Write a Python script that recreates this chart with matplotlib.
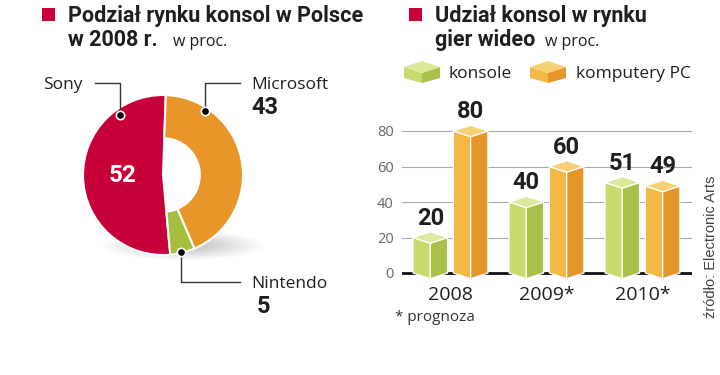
import matplotlib
matplotlib.use("Agg")
import matplotlib.pyplot as plt
from matplotlib.patches import Polygon, Rectangle, Ellipse
from matplotlib.lines import Line2D

plt.rcParams["font.family"] = ["Open Sans", "DejaVu Sans"]
BOLD = ["Roboto", "DejaVu Sans"]

# pie data
brands = ["Sony", "Microsoft", "Nintendo"]
shares = [52, 43, 5]
pie_colors = ["#C8003A", "#E8962A", "#A6BE3E"]

# bar data
years = ["2008", "2009*", "2010*"]
consoles = [20, 40, 51]
pc = [80, 60, 49]
yticks = [0, 20, 40, 60, 80]

W, H = 720, 375
fig = plt.figure(figsize=(7.2, 3.75), dpi=100)
fig.patch.set_facecolor("white")


def fx(x):
    return x / W


def fy(y):
    return 1 - y / H


def ptext(x, y, s, **kw):
    fig.text(fx(x), fy(y), s, **kw)


def pline(xs, ys, **kw):
    fig.add_artist(Line2D([fx(x) for x in xs], [fy(y) for y in ys], **kw))


def ppoly(pts, **kw):
    fig.add_artist(Polygon([(fx(x), fy(y)) for x, y in pts], closed=True,
                           transform=fig.transFigure, **kw))


dark = "#1e1e1e"

# ---- titles ----
fig.add_artist(Rectangle((fx(42), fy(21)), 13 / W, 13 / H, transform=fig.transFigure,
                         color="#C8003A", lw=0))
ptext(68, 22, "Podział rynku konsol w Polsce", fontsize=15.5, fontweight="bold",
      color=dark, family=BOLD)
ptext(68, 46, "w 2008 r.", fontsize=15.5, fontweight="bold", color=dark, family=BOLD)
ptext(173, 46, "w proc.", fontsize=11.5, color=dark)

fig.add_artist(Rectangle((fx(409), fy(21)), 13 / W, 13 / H, transform=fig.transFigure,
                         color="#C8003A", lw=0))
ptext(435, 22, "Udział konsol w rynku", fontsize=15.5, fontweight="bold", color=dark,
      family=BOLD)
ptext(435, 46, "gier wideo", fontsize=15.5, fontweight="bold", color=dark, family=BOLD)
ptext(545, 46, "w proc.", fontsize=11.5, color=dark)

# ---- pie ----
cx, cy, r = 163, 175, 78
ax_pie = fig.add_axes([fx(cx - 100), fy(cy + 100), 200 / W, 200 / H])
ax_pie.set_xlim(-100 / r, 100 / r)
ax_pie.set_ylim(-100 / r, 100 / r)
ax_pie.set_aspect("equal")
ax_pie.axis("off")
# soft shadow under the ring
for i in range(10):
    ax_pie.add_patch(Ellipse((0.25, -0.88), 2.0 - i * 0.15, 0.36 - i * 0.025,
                             color="black", alpha=0.018, lw=0))
order = [0, 2, 1]  # Sony, Nintendo, Microsoft going counter-clockwise
wedges, _ = ax_pie.pie([shares[i] for i in order], colors=[pie_colors[i] for i in order],
                       startangle=88, counterclock=True, radius=1.0,
                       wedgeprops=dict(edgecolor="white", linewidth=1.5))
for w in wedges[1:]:
    w.set_width(0.54)

ptext(cx - 40, cy, str(shares[0]), fontsize=17.5, fontweight="bold", color="white",
      ha="center", va="center", family=BOLD)

# leader lines + labels
dot = dict(marker="o", markersize=6, markerfacecolor="black", markeredgecolor="white",
           markeredgewidth=1.2)
pline([95, 120, 120], [83, 83, 115], color="#333", lw=1)
pline([120], [115], **dot)
ptext(43, 89, brands[0], fontsize=12.5, color=dark)

pline([240, 205, 205], [83, 83, 111], color="#333", lw=1)
pline([205], [111], **dot)
ptext(251, 89, brands[1], fontsize=12.5, color=dark)
ptext(251, 114, str(shares[1]), fontsize=17, fontweight="bold", color=dark, family=BOLD)

pline([181, 181, 240], [252, 282, 282], color="#333", lw=1)
pline([181], [252], **dot)
ptext(251, 288, brands[2], fontsize=12.5, color=dark)
ptext(257, 313, str(shares[2]), fontsize=17, fontweight="bold", color=dark, family=BOLD)

# ---- bars ----
y0_px, unit = 273, 142 / 80
bot, top = 282, 110
gx0, gstep = 450.5, 96
ax = fig.add_axes([fx(402), fy(bot), 290 / W, (bot - top) / H])
ax.set_xlim((402 - gx0) / gstep, (692 - gx0) / gstep)
ax.set_ylim(-(bot - y0_px) / unit, (y0_px - top) / unit)
ax.set_facecolor("none")
for s in ax.spines.values():
    s.set_visible(False)
ax.set_yticks(yticks)
ax.set_yticklabels([str(t) for t in yticks], color="#666", fontsize=10.5)
ax.set_xticks(range(len(years)))
ax.set_xticklabels(years, fontsize=14, color=dark)
ax.tick_params(length=0, axis="y", pad=6)
ax.tick_params(length=0, axis="x", pad=3)
ax.grid(axis="y", color="#a8a8a8", lw=0.8)
ax.set_axisbelow(True)
ax.axhline(0, color="#111", lw=2, zorder=1)

green = ("#C7DA6E", "#A9C04A", "#DDE99A")
orange = ("#F3B845", "#E6952B", "#F8CF72")
hw, off, d = 0.18, 0.21, 3.2


def prism(xc, v, cols):
    left, right, topc = cols
    kw = dict(edgecolor="white", linewidth=0.9, zorder=3, clip_on=False)
    ax.fill([xc - hw, xc - hw, xc, xc], [0, v, v - d, -d], color=left, **kw)
    ax.fill([xc, xc, xc + hw, xc + hw], [-d, v - d, v, 0], color=right, **kw)
    ax.fill([xc - hw, xc, xc + hw, xc], [v, v - d, v, v + d], color=topc, **kw)
    ax.text(xc, v + d + 1.2, str(v), ha="center", va="bottom", fontsize=17,
            fontweight="bold", color=dark, zorder=4, family=BOLD)


for i in range(len(years)):
    prism(i - off, consoles[i], green)
    prism(i + off, pc[i], orange)

ptext(395, 321, "* prognoza", fontsize=11, color="#333")
ptext(711, 247, "źródło: Electronic Arts", fontsize=10.5, color="#444", rotation=90,
      ha="center", va="center", family=["Liberation Sans", "DejaVu Sans"])

# ---- legend ----
def legend_box(x, cols):
    left, right, topc = cols
    ppoly([(x, 67), (x + 18, 73), (x + 18, 83), (x, 78)], color=left, lw=0)
    ppoly([(x + 18, 73), (x + 36, 67), (x + 36, 78), (x + 18, 83)], color=right, lw=0)
    ppoly([(x, 67), (x + 18, 61), (x + 36, 67), (x + 18, 73)], color=topc, lw=0)


legend_box(404, green)
ptext(449, 78, "konsole", fontsize=12.5, color=dark)
legend_box(530, orange)
ptext(576, 78, "komputery PC", fontsize=12.5, color=dark)

fig.savefig("out.png", dpi=100)
